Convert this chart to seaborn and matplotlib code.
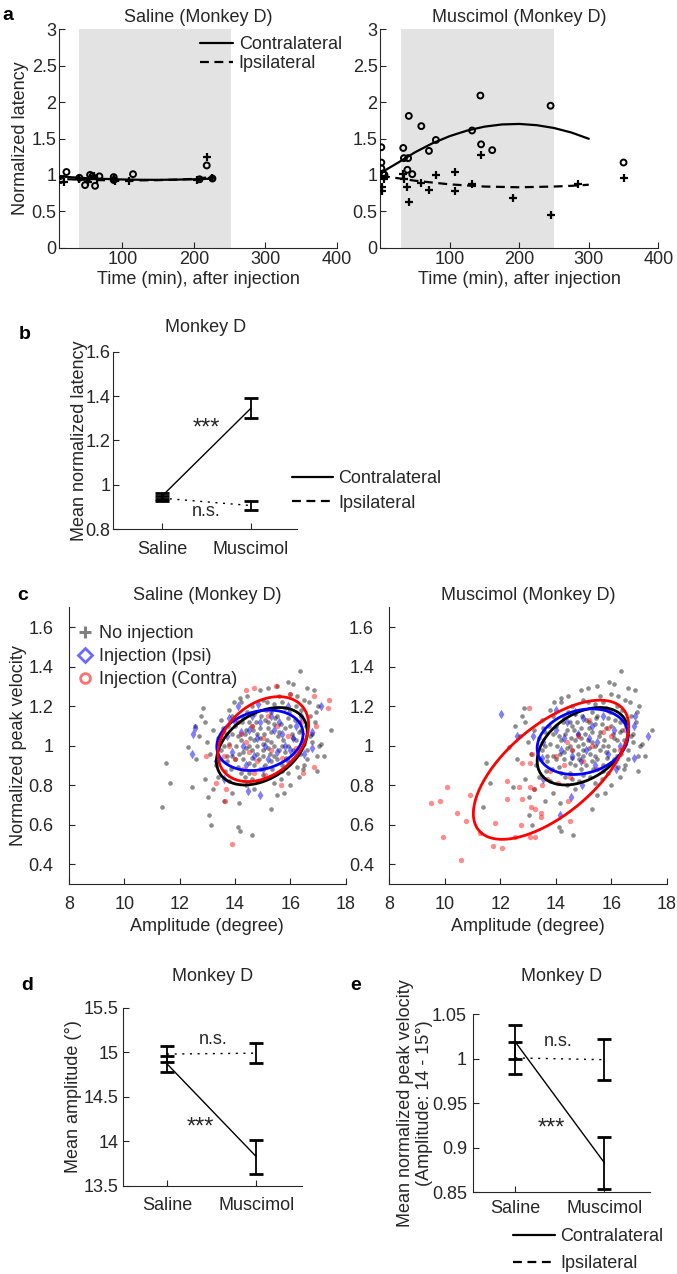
import numpy as np
import matplotlib
matplotlib.use('Agg')
import matplotlib.pyplot as plt
import seaborn as sns
from matplotlib.lines import Line2D

# ---------------- data ----------------
# panel a: normalized latency vs time after injection (Monkey D)
sal_con_t = [5, 14, 22, 40, 48, 55, 58, 62, 68, 88, 88, 115, 208, 218, 226]
sal_con_y = [1.31, 0.93, 1.04, 0.96, 0.86, 1.0, 0.98, 0.85, 0.98, 0.97, 0.93, 1.01, 0.94, 1.13, 0.95]
sal_ips_t = [5, 10, 18, 40, 52, 60, 65, 88, 90, 110, 205, 218, 226]
sal_ips_y = [0.93, 0.97, 0.9, 0.94, 0.9, 0.99, 0.95, 0.94, 0.92, 0.92, 0.93, 1.25, 0.96]
sal_fit_t = [3, 25, 50, 75, 100, 125, 150, 175, 200, 228]
sal_fit_con = [0.99, 0.97, 0.955, 0.945, 0.937, 0.933, 0.932, 0.935, 0.94, 0.95]
sal_fit_ips = [0.95, 0.94, 0.932, 0.927, 0.925, 0.925, 0.928, 0.935, 0.945, 0.975]

mus_con_t = [1.5, 1.5, 1.5, 4, 6, 33, 34, 40, 39, 41, 46, 59, 70, 80, 132, 144, 145, 161, 245, 350]
mus_con_y = [1.38, 1.17, 1.09, 1.02, 1.0, 1.37, 1.23, 1.23, 1.07, 1.81, 1.01, 1.67, 1.33, 1.48, 1.61, 2.09, 1.42, 1.34, 1.95, 1.17]
mus_ips_t = [1, 2, 2, 5, 33, 34, 39, 41, 59, 70, 80, 108, 107, 132, 145, 191, 245, 285, 350]
mus_ips_y = [0.98, 0.84, 0.78, 0.95, 1.01, 0.94, 0.83, 0.63, 0.89, 0.79, 1.0, 1.04, 0.78, 0.88, 1.28, 0.68, 0.45, 0.88, 0.96]
mus_fit_t = [1, 25, 50, 75, 100, 125, 150, 175, 200, 225, 250, 275, 300]
mus_fit_con = [1.03, 1.165, 1.311, 1.434, 1.533, 1.609, 1.663, 1.693, 1.70, 1.683, 1.644, 1.582, 1.496]
mus_fit_ips = [0.985, 0.955, 0.92, 0.895, 0.87, 0.855, 0.84, 0.835, 0.83, 0.835, 0.84, 0.85, 0.865]

# panels b, d, e: means and errors (Saline, Muscimol)
conditions = ['Saline', 'Muscimol']
lat_con = [0.95, 1.345]
lat_con_err = [0.012, 0.045]
lat_ips = [0.94, 0.907]
lat_ips_err = [0.012, 0.021]
amp_con = [14.87, 13.83]
amp_con_err = [0.093, 0.19]
amp_ips = [14.98, 14.99]
amp_ips_err = [0.085, 0.115]
vel_con = [1.019, 0.883]
vel_con_err = [0.019, 0.029]
vel_ips = [1.001, 0.999]
vel_ips_err = [0.018, 0.023]

# panel c: amplitude (deg), normalized peak velocity
no_inj = [
    (11.37, 0.69), (11.5, 0.91), (11.64, 0.81), (12.45, 0.79), (12.3, 0.995), (12.54, 1.1),
    (12.86, 1.19), (12.78, 1.15), (13.02, 0.74), (13.05, 0.65), (13.14, 0.6), (14.1, 0.59),
    (14.18, 0.57), (14.14, 0.71), (14.63, 0.55), (15.3, 0.68), (15.78, 0.76), (16.36, 1.38),
    (15.92, 1.32), (15.18, 1.29), (14.18, 1.24), (17.48, 1.08), (17.04, 1.0), (16.98, 0.95),
    (16.98, 0.87), (16.86, 1.28), (16.94, 1.17), (16.66, 1.22),
    (14.2, 1.22), (14.6, 1.2), (15.0, 1.23), (15.4, 1.21), (15.8, 1.19), (16.2, 1.2), (16.5, 1.23),
    (13.8, 1.18), (15.6, 1.25), (16.0, 1.26),
    (13.5, 1.13), (13.9, 1.15), (14.3, 1.14), (14.7, 1.16), (15.1, 1.13), (15.5, 1.15), (15.9, 1.14),
    (16.3, 1.12), (16.7, 1.15), (14.5, 1.12), (15.3, 1.17),
    (13.2, 1.08), (13.6, 1.07), (14.0, 1.1), (14.4, 1.08), (14.8, 1.06), (15.2, 1.09), (15.6, 1.07),
    (16.0, 1.1), (16.4, 1.08), (16.8, 1.06), (14.6, 1.1), (15.4, 1.11), (13.9, 1.06),
    (13.0, 1.02), (13.4, 1.04), (13.8, 1.01), (14.2, 1.03), (14.5, 1.0), (14.9, 1.04), (15.3, 1.02),
    (15.7, 1.0), (16.1, 1.04), (16.5, 1.01), (15.0, 1.01), (14.7, 1.03), (16.8, 1.02),
    (13.1, 0.96), (13.5, 0.98), (13.9, 0.95), (14.3, 0.97), (14.6, 0.94), (15.0, 0.98), (15.4, 0.95),
    (15.8, 0.97), (16.2, 0.95), (16.6, 0.98), (14.8, 0.96), (15.2, 0.99),
    (13.3, 0.9), (13.7, 0.92), (14.1, 0.89), (14.5, 0.91), (14.9, 0.88), (15.3, 0.92), (15.7, 0.9),
    (16.1, 0.93), (16.5, 0.9), (14.0, 0.93),
    (13.4, 0.84), (13.8, 0.82), (14.2, 0.86), (14.6, 0.83), (15.0, 0.85), (15.4, 0.81), (15.9, 0.86),
    (16.3, 0.84), (14.4, 0.8),
    (13.2, 0.78), (13.9, 0.76), (14.7, 0.78), (15.5, 0.75), (12.9, 0.83), (13.6, 0.72), (16.0, 0.8),
    (14.9, 1.28), (15.5, 1.3), (16.1, 1.31), (16.6, 1.29), (17.0, 1.2), (16.9, 1.12), (17.1, 1.01),
    (12.7, 1.05), (12.6, 0.93), (12.9, 1.12), (17.2, 0.95),
    (13.6, 1.0), (13.7, 0.95), (13.75, 1.1), (13.85, 0.88), (14.05, 1.0), (14.1, 1.05), (14.15, 0.96),
    (14.25, 1.12), (14.3, 0.93), (14.35, 1.06), (14.4, 0.99), (14.45, 1.17), (14.5, 0.86),
    (14.55, 1.04), (14.6, 0.98), (14.65, 1.08), (14.7, 0.9), (14.75, 1.12), (14.8, 1.0), (14.85, 0.93),
    (14.9, 1.09), (14.95, 1.15), (15.0, 0.95), (15.05, 1.06), (15.1, 0.9), (15.15, 1.03), (15.2, 1.12),
    (15.25, 0.96), (15.3, 1.07), (15.35, 0.88), (15.4, 1.0), (15.45, 1.14), (15.5, 0.93),
    (15.55, 1.05), (15.6, 0.98), (15.65, 1.11), (15.7, 0.87), (15.75, 1.03), (15.8, 1.09),
    (15.85, 0.94), (15.9, 1.0), (15.95, 1.17), (16.0, 0.91), (16.05, 1.06), (16.1, 0.98),
    (16.15, 1.13), (16.2, 1.03), (16.25, 0.89), (16.3, 1.07), (16.35, 0.96), (16.4, 1.18),
    (16.45, 1.03), (16.55, 1.1), (16.6, 0.93), (16.7, 1.05), (13.45, 0.93), (13.55, 1.09),
    (13.65, 0.87), (14.35, 0.84), (14.85, 0.82), (15.25, 0.84), (15.65, 0.83), (16.45, 0.88),
    (13.95, 1.22), (14.45, 1.25), (15.15, 1.22), (15.7, 1.22), (16.25, 1.25),
]
sal_ipsi = [
    (12.48, 1.06), (12.54, 1.09), (12.45, 0.96), (13.8, 1.14), (14.82, 1.21), (14.46, 0.77),
    (14.9, 0.75), (17.1, 1.2), (16.8, 1.07), (16.8, 0.99), (16.5, 0.96), (13.6, 0.83), (14.1, 1.2),
    (15.9, 1.2), (16.4, 1.15), (13.3, 0.92),
    (13.7, 1.05), (14.0, 1.12), (14.3, 1.0), (14.5, 1.08), (14.7, 0.95), (14.9, 1.12), (15.1, 1.0),
    (15.3, 1.15), (15.5, 0.97), (15.7, 1.06), (15.9, 0.92), (16.1, 1.04), (14.4, 0.9), (15.0, 0.88),
    (15.6, 1.12), (16.2, 1.1), (14.2, 1.07), (15.2, 0.93), (14.8, 1.04), (15.4, 1.08), (13.9, 0.97),
    (16.0, 0.98), (14.6, 1.15), (15.8, 1.0),
]
sal_contra = [
    (13.9, 0.5), (13.62, 0.72), (13.68, 0.78), (13.3, 0.81), (12.96, 0.95), (14.4, 1.28), (14.7, 1.29),
    (15.48, 1.3), (16.0, 1.26), (16.86, 1.25), (17.4, 1.23), (17.35, 1.19), (16.92, 1.1), (16.86, 0.89),
    (16.44, 0.86), (15.66, 0.8), (15.12, 1.18),
    (13.8, 1.0), (14.0, 0.93), (14.2, 1.06), (14.3, 0.88), (14.5, 0.97), (14.6, 1.1), (14.8, 0.92),
    (15.0, 1.04), (15.1, 0.85), (15.3, 0.98), (15.5, 1.1), (15.7, 0.94), (15.9, 1.05), (16.2, 0.99),
    (14.1, 1.12), (14.4, 1.02), (15.2, 1.15), (16.4, 1.12), (13.6, 0.95), (14.7, 0.86),
]
mus_ipsi = [
    (12.04, 1.16), (12.61, 1.05), (13.19, 1.05), (13.53, 0.83), (14.55, 0.74), (14.15, 0.65),
    (14.0, 1.18), (16.85, 1.15), (16.81, 1.1), (17.33, 1.05), (16.81, 0.94), (16.19, 0.88),
    (14.95, 0.8), (13.49, 0.94), (13.55, 1.02),
    (14.0, 1.08), (14.2, 0.98), (14.4, 1.12), (14.6, 0.95), (14.8, 1.06), (15.0, 1.14), (15.1, 0.98),
    (15.3, 1.1), (15.5, 1.02), (15.7, 1.15), (15.9, 0.96), (16.1, 1.08), (14.3, 1.04), (14.9, 0.92),
    (15.4, 0.9), (16.3, 1.0), (14.7, 1.17), (15.2, 1.04),
]
mus_contra = [
    (9.5, 0.71), (9.83, 0.72), (10.09, 0.79), (9.92, 0.54), (10.43, 0.66), (10.58, 0.42), (10.76, 0.62),
    (10.9, 0.75), (11.27, 0.56), (11.82, 0.61), (11.75, 0.49), (12.08, 0.48), (12.23, 0.73),
    (12.26, 0.82), (12.53, 0.54), (12.73, 0.6), (12.8, 0.73), (12.68, 0.79), (12.77, 0.91),
    (13.07, 0.91), (13.16, 0.96), (13.05, 1.19), (13.07, 0.79), (13.23, 0.78), (13.1, 0.69),
    (13.25, 0.68), (13.07, 0.54), (13.25, 0.54), (13.46, 0.66), (13.46, 0.64), (13.49, 0.8),
    (13.67, 0.83), (14.09, 0.81), (14.51, 0.84), (14.43, 0.72), (14.53, 0.62), (15.89, 1.09),
    (14.0, 0.95), (14.3, 0.9), (14.6, 0.98), (14.8, 1.05), (15.0, 0.92), (15.3, 1.0), (15.5, 0.88),
    (15.7, 1.07), (16.0, 1.05), (16.3, 0.98), (16.5, 1.08), (14.4, 1.02), (15.2, 1.13), (13.8, 0.87),
    (15.9, 1.18),
]
# covariance ellipses: centre x, centre y, half-width, half-height, correlation
ell_none = (14.97, 0.997, 1.64, 0.196, 0.38)
ell_sal_ipsi = (14.9, 1.027, 1.56, 0.153, 0.21)
ell_sal_contra = (15.02, 1.033, 1.64, 0.215, 0.34)
ell_mus_ipsi = (14.97, 1.02, 1.64, 0.166, 0.2)
ell_mus_contra = (13.83, 0.878, 2.8, 0.352, 0.63)

# ---------------- style ----------------
sns.set_style('ticks')
plt.rcParams['font.family'] = ['Liberation Sans', 'DejaVu Sans']
plt.rcParams.update({
    'font.size': 13, 'axes.titlesize': 13, 'axes.labelsize': 13,
    'xtick.labelsize': 13, 'ytick.labelsize': 13,
    'xtick.direction': 'in', 'ytick.direction': 'in',
    'axes.edgecolor': '#262626', 'axes.linewidth': 0.8,
    'xtick.color': '#262626', 'ytick.color': '#262626',
    'axes.labelcolor': '#262626', 'text.color': '#262626',
    'legend.fontsize': 13,
})

W, H = 677, 1274
fig = plt.figure(figsize=(W / 100, H / 100), dpi=100)


def box(left, top, right, bottom):
    return [left / W, 1 - bottom / H, (right - left) / W, (bottom - top) / H]


def fpos(x, y):
    return (x / W, 1 - y / H)


def clean(ax):
    sns.despine(ax=ax)
    ax.tick_params(length=4, width=0.8)


# ---------------- panel a ----------------
def latency_panel(ax, con_t, con_y, ips_t, ips_y, fit_t, fit_con, fit_ips, shade, xmin, title):
    ax.axvspan(shade[0], shade[1], color='#e3e3e3', lw=0, zorder=0)
    sns.lineplot(x=fit_t, y=fit_con, color='k', lw=1.6, ax=ax)
    sns.lineplot(x=fit_t, y=fit_ips, color='k', lw=1.6, ax=ax, dashes=False,
                 linestyle=(0, (4, 2.5)))
    sns.scatterplot(x=con_t, y=con_y, marker='o', s=18, facecolors='none',
                    edgecolors='k', linewidths=1.4, ax=ax, zorder=3)
    sns.scatterplot(x=ips_t, y=ips_y, marker='+', s=30, color='k',
                    linewidths=1.6, ax=ax, zorder=3)
    ax.set_xlim(xmin, 400)
    ax.set_ylim(0, 3)
    ax.set_xticks([100, 200, 300, 400])
    ax.set_yticks([0, 0.5, 1, 1.5, 2, 2.5, 3])
    ax.set_yticklabels(['0', '0.5', '1', '1.5', '2', '2.5', '3'])
    ax.set_xlabel('Time (min), after injection', labelpad=2)
    ax.set_title(title, pad=5)
    clean(ax)
    ax.tick_params(axis='x', pad=2.5)
    ax.tick_params(axis='y', pad=2)


ax_a1 = fig.add_axes(box(59.3, 29.3, 337, 247.7))
latency_panel(ax_a1, sal_con_t, sal_con_y, sal_ips_t, sal_ips_y, sal_fit_t,
              sal_fit_con, sal_fit_ips, (40, 252), 12, 'Saline (Monkey D)')
ax_a1.set_ylabel('Normalized latency')
ax_a1.yaxis.set_label_coords(-0.109, 0.5)

ax_a2 = fig.add_axes(box(380.3, 29.3, 658.3, 247.7))
latency_panel(ax_a2, mus_con_t, mus_con_y, mus_ips_t, mus_ips_y, mus_fit_t,
              mus_fit_con, mus_fit_ips, (30, 250), 0, 'Muscimol (Monkey D)')
ax_a2.set_ylabel('')

line_handles = [Line2D([], [], color='k', lw=1.6, label='Contralateral'),
                Line2D([], [], color='k', lw=1.6, ls=(0, (4, 2.5)), label='Ipsilateral')]
ax_a1.legend(handles=line_handles, loc='upper left', bbox_to_anchor=fpos(200, 36),
             bbox_transform=fig.transFigure, frameon=False, borderpad=0, borderaxespad=0,
             handlelength=1.85, handletextpad=0.3, labelspacing=0.12)


# ---------------- mean panels (b, d, e) ----------------
def mean_panel(ax, con, con_err, ips, ips_err, xlim, ylim, yticks, ylabels):
    xs = [1, 2]
    sns.lineplot(x=xs, y=con, color='k', lw=1.0, ax=ax)
    sns.lineplot(x=xs, y=ips, color='k', lw=1.0, ax=ax, dashes=False, linestyle=(0, (1.5, 4)))
    ax.errorbar(xs, con, yerr=con_err, fmt='none', ecolor='k', elinewidth=1.3,
                capsize=5, capthick=2)
    ax.errorbar(xs, ips, yerr=ips_err, fmt='none', ecolor='k', elinewidth=1.3,
                capsize=5, capthick=2)
    ax.set_xlim(*xlim)
    ax.set_ylim(*ylim)
    ax.set_xticks(xs)
    ax.set_xticklabels(conditions)
    ax.set_yticks(yticks)
    ax.set_yticklabels(ylabels)
    clean(ax)


ax_b = fig.add_axes(box(113.3, 351.7, 297, 529.3))
mean_panel(ax_b, lat_con, lat_con_err, lat_ips, lat_ips_err, (0.45, 2.52), (0.8, 1.6),
           [0.8, 1, 1.2, 1.4, 1.6], ['0.8', '1', '1.2', '1.4', '1.6'])
ax_b.tick_params(axis='y', pad=2)
ax_b.tick_params(axis='x', pad=8.5)
ax_b.set_title('Monkey D', pad=14)
ax_b.set_ylabel('Mean normalized latency')
ax_b.yaxis.set_label_coords(-0.14, 0.5)
ax_b.text(1.5, 1.252, '***', ha='center', va='center', fontsize=17)
ax_b.text(1.5, 0.879, 'n.s.', ha='center', va='center')
ax_b.legend(handles=line_handles, loc='upper left', bbox_to_anchor=fpos(291.5, 470),
            bbox_transform=fig.transFigure, frameon=False, borderpad=0, borderaxespad=0,
            handlelength=2.3, handletextpad=0.3, labelspacing=0.42)

ax_d = fig.add_axes(box(123.3, 1007.7, 301.7, 1186))
mean_panel(ax_d, amp_con, amp_con_err, amp_ips, amp_ips_err, (0.51, 2.51), (13.5, 15.5),
           [13.5, 14, 14.5, 15, 15.5], ['13.5', '14', '14.5', '15', '15.5'])
ax_d.tick_params(axis='y', pad=3.5)
ax_d.tick_params(axis='x', pad=8)
ax_d.set_title('Monkey D', pad=19)
ax_d.set_ylabel('Mean amplitude (°)')
ax_d.yaxis.set_label_coords(-0.23, 0.5)
ax_d.text(1.52, 15.14, 'n.s.', ha='center', va='center')
ax_d.text(1.37, 14.16, '***', ha='center', va='center', fontsize=17)

ax_e = fig.add_axes(box(473.3, 1014.3, 650, 1192.3))
mean_panel(ax_e, vel_con, vel_con_err, vel_ips, vel_ips_err, (0.53, 2.51), (0.85, 1.05),
           [0.85, 0.9, 0.95, 1, 1.05], ['0.85', '0.9', '0.95', '1', '1.05'])
ax_e.tick_params(axis='y', pad=4.5)
ax_e.tick_params(axis='x', pad=5.5)
ax_e.set_title('Monkey D', pad=24)
ax_e.set_ylabel('Mean normalized peak velocity\n(Amplitude: 14 - 15°)', linespacing=1.1)
ax_e.yaxis.set_label_coords(-0.23, 0.5)
ax_e.text(1.48, 1.02, 'n.s.', ha='center', va='center')
ax_e.text(1.41, 0.922, '***', ha='center', va='center', fontsize=17)
ax_e.legend(handles=line_handles, loc='upper left', bbox_to_anchor=fpos(513, 1228),
            bbox_transform=fig.transFigure, frameon=False, borderpad=0, borderaxespad=0,
            handlelength=2.3, handletextpad=0.3, labelspacing=0.55)


# ---------------- panel c ----------------
def ellipse(ax, params, color):
    cx, cy, rx, ry, r = params
    t = np.linspace(0, 2 * np.pi, 240)
    ax.plot(cx + rx * np.cos(t), cy + ry * np.cos(t - np.arccos(r)), color=color, lw=2.0, zorder=5)


def velocity_panel(ax, ipsi, contra, ell_ipsi, ell_contra, title):
    g = np.array(no_inj)
    b = np.array(ipsi)
    r = np.array(contra)
    sns.scatterplot(x=g[:, 0], y=g[:, 1], color='k', alpha=0.45, s=11, linewidth=0, ax=ax)
    sns.scatterplot(x=b[:, 0], y=b[:, 1], color='b', alpha=0.5, s=24, marker='d',
                    linewidth=0, ax=ax)
    sns.scatterplot(x=r[:, 0], y=r[:, 1], color='r', alpha=0.45, s=15, linewidth=0, ax=ax)
    ellipse(ax, ell_none, 'k')
    ellipse(ax, ell_ipsi, 'b')
    ellipse(ax, ell_contra, 'r')
    ax.set_xlim(8, 18)
    ax.set_ylim(0.3, 1.7)
    ax.set_xticks([8, 10, 12, 14, 16, 18])
    ax.set_yticks([0.4, 0.6, 0.8, 1.0, 1.2, 1.4, 1.6])
    ax.set_yticklabels(['0.4', '0.6', '0.8', '1', '1.2', '1.4', '1.6'])
    ax.set_xlabel('Amplitude (degree)', labelpad=4)
    ax.set_title(title, pad=5)
    clean(ax)
    ax.tick_params(axis='x', pad=8.5)
    ax.tick_params(axis='y', pad=11)


ax_c1 = fig.add_axes(box(69, 607.3, 345.7, 884))
velocity_panel(ax_c1, sal_ipsi, sal_contra, ell_sal_ipsi, ell_sal_contra, 'Saline (Monkey D)')
ax_c1.set_ylabel('Normalized peak velocity')
ax_c1.yaxis.set_label_coords(-0.15, 0.5)

ax_c2 = fig.add_axes(box(389.3, 607.3, 666.7, 884))
velocity_panel(ax_c2, mus_ipsi, mus_contra, ell_mus_ipsi, ell_mus_contra, 'Muscimol (Monkey D)')

pt_handles = [
    Line2D([], [], ls='none', marker='+', ms=8, mew=2.2, color='#808080', label='No injection'),
    Line2D([], [], ls='none', marker='D', ms=7, mew=2, mfc='none', mec='#6a6aff',
           label='Injection (Ipsi)'),
    Line2D([], [], ls='none', marker='o', ms=7, mew=2, mfc='none', mec='#ff7070',
           label='Injection (Contra)'),
]
ax_c1.legend(handles=pt_handles, loc='upper left', bbox_to_anchor=fpos(78, 625),
             bbox_transform=fig.transFigure, frameon=False, borderpad=0, borderaxespad=0,
             handlelength=0.8, handletextpad=0.35, labelspacing=0.33)

# panel letters
for letter, x, y in [('a', 8, 15), ('b', 25, 334), ('c', 23, 595), ('d', 27, 985), ('e', 356, 985)]:
    fig.text(x / W, 1 - y / H, letter, fontsize=14, fontweight='bold', color='k',
             ha='center', va='center')

fig.savefig('out.png', dpi=100)
